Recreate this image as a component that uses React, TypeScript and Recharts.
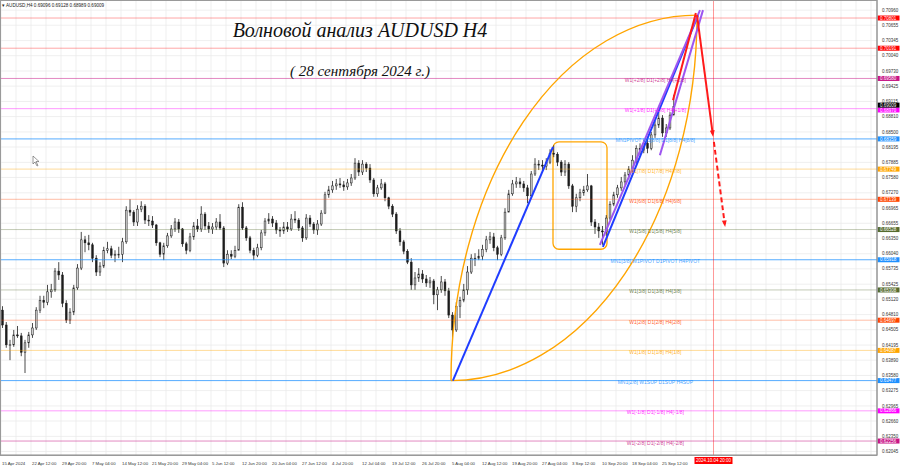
import React from "react";
import {
  ComposedChart,
  Bar,
  XAxis,
  YAxis,
  ReferenceLine,
  ReferenceArea,
  ReferenceDot,
  CartesianGrid,
} from "recharts";

const W = 900;
const H = 468;
const X_MAX = 233.6;
const Y_MIN = 0.61974;
const Y_MAX = 0.71165;

const OPEN0 = 0.649;
const CLOSES = [
  0.646, 0.642, 0.642, 0.644, 0.6438, 0.6405, 0.6424, 0.644, 0.6454, 0.649,
  0.651, 0.6506, 0.6527, 0.6531, 0.6569, 0.6561, 0.6504, 0.647, 0.6486, 0.6535,
  0.6575, 0.6632, 0.6626, 0.6622, 0.6595, 0.6567, 0.6579, 0.6611, 0.6614, 0.6601,
  0.6603, 0.6603, 0.6628, 0.6692, 0.6688, 0.6668, 0.6694, 0.67, 0.6672, 0.667,
  0.6662, 0.6626, 0.6603, 0.662, 0.664, 0.6654, 0.6668, 0.6654, 0.6624, 0.6611,
  0.6638, 0.666, 0.6654, 0.6684, 0.666, 0.6654, 0.6658, 0.6668, 0.6656, 0.6585,
  0.6603, 0.6599, 0.6611, 0.6698, 0.6656, 0.6636, 0.6611, 0.6601, 0.6616, 0.6646,
  0.667, 0.6674, 0.6666, 0.6652, 0.665, 0.6658, 0.6654, 0.6674, 0.6672, 0.6656,
  0.6636, 0.6676, 0.6664, 0.6652, 0.6664, 0.6686, 0.6723, 0.6733, 0.6741, 0.6745,
  0.6743, 0.6739, 0.6747, 0.6757, 0.6787, 0.6769, 0.6785, 0.6777, 0.6753, 0.6725,
  0.6737, 0.6745, 0.6717, 0.67, 0.6684, 0.665, 0.6628, 0.6609, 0.6587, 0.6541,
  0.6555, 0.6563, 0.6553, 0.6545, 0.6549, 0.6521, 0.6531, 0.6547, 0.6529, 0.648,
  0.645, 0.6498, 0.651, 0.6531, 0.6567, 0.6595, 0.6595, 0.6599, 0.6613, 0.6632,
  0.6638, 0.6616, 0.6603, 0.6636, 0.6688, 0.6725, 0.6745, 0.6749, 0.6745, 0.6737,
  0.6721, 0.6765, 0.6785, 0.6783, 0.6781, 0.6789, 0.6807, 0.6805, 0.6789, 0.6769,
  0.6785, 0.6741, 0.67, 0.6717, 0.6727, 0.6733, 0.6741, 0.6668, 0.6658, 0.665,
  0.6648, 0.6676, 0.6704, 0.6723, 0.6737, 0.6749, 0.6763, 0.6775, 0.6793, 0.6817,
  0.6813, 0.6827, 0.6817, 0.6844, 0.6864, 0.6878, 0.6848, 0.6858, 0.6884, 0.6901,
];
const HIGHS = [
  0.6498, 0.6466, 0.643, 0.645, 0.6458, 0.6444, 0.643, 0.6446, 0.6464, 0.6496,
  0.6519, 0.6519, 0.6541, 0.6543, 0.6575, 0.6587, 0.6567, 0.651, 0.6494, 0.6541,
  0.6583, 0.6648, 0.664, 0.6642, 0.6626, 0.6601, 0.6587, 0.6618, 0.6628, 0.662,
  0.6611, 0.6618, 0.6636, 0.67, 0.6714, 0.6692, 0.6702, 0.671, 0.6704, 0.6682,
  0.668, 0.6664, 0.6628, 0.6626, 0.6646, 0.6662, 0.6676, 0.6674, 0.6656, 0.6628,
  0.6646, 0.6668, 0.6674, 0.67, 0.6688, 0.6668, 0.6666, 0.6676, 0.6684, 0.666,
  0.6611, 0.6611, 0.662, 0.6704, 0.6708, 0.666, 0.664, 0.6616, 0.6624, 0.6652,
  0.6676, 0.6686, 0.668, 0.6672, 0.6658, 0.6668, 0.6668, 0.6684, 0.669, 0.6676,
  0.666, 0.6684, 0.6682, 0.6668, 0.6672, 0.6692, 0.6729, 0.6741, 0.6751, 0.6755,
  0.6757, 0.6751, 0.6755, 0.6765, 0.6797, 0.6793, 0.6793, 0.6789, 0.6785, 0.6757,
  0.6743, 0.6755, 0.6749, 0.6719, 0.6704, 0.6688, 0.6656, 0.6632, 0.6613, 0.6595,
  0.6567, 0.6575, 0.6571, 0.6561, 0.6557, 0.6553, 0.6537, 0.6559, 0.6553, 0.6535,
  0.6486, 0.6506, 0.6517, 0.6543, 0.6579, 0.6603, 0.6605, 0.6613, 0.6622, 0.664,
  0.6648, 0.6646, 0.662, 0.6642, 0.6696, 0.6733, 0.6753, 0.6759, 0.6757, 0.6751,
  0.6743, 0.6771, 0.6797, 0.6793, 0.6793, 0.6797, 0.6815, 0.6823, 0.6809, 0.6793,
  0.6793, 0.6789, 0.6745, 0.6725, 0.6735, 0.6741, 0.6765, 0.6743, 0.6674, 0.6666,
  0.666, 0.6682, 0.671, 0.6729, 0.6743, 0.6759, 0.6769, 0.6781, 0.6803, 0.6823,
  0.6827, 0.6834, 0.6834, 0.685, 0.6872, 0.689, 0.6884, 0.6866, 0.689, 0.6925,
];
const LOWS = [
  0.6454, 0.6414, 0.6389, 0.6416, 0.6434, 0.6397, 0.6363, 0.6414, 0.6434, 0.645,
  0.6484, 0.6494, 0.65, 0.6515, 0.6527, 0.6551, 0.6496, 0.6464, 0.6462, 0.648,
  0.6531, 0.6571, 0.6607, 0.6611, 0.6587, 0.6559, 0.6559, 0.6575, 0.6605, 0.6595,
  0.6587, 0.6595, 0.6587, 0.6624, 0.668, 0.666, 0.666, 0.6688, 0.6664, 0.666,
  0.6656, 0.662, 0.6597, 0.6591, 0.6616, 0.6636, 0.6648, 0.6646, 0.6618, 0.6603,
  0.6607, 0.6632, 0.6648, 0.6648, 0.6652, 0.6646, 0.6644, 0.6652, 0.6652, 0.6577,
  0.6581, 0.6593, 0.6595, 0.6611, 0.6652, 0.663, 0.6605, 0.6591, 0.6597, 0.6611,
  0.664, 0.6664, 0.6658, 0.6644, 0.6638, 0.6644, 0.6648, 0.665, 0.6666, 0.665,
  0.6628, 0.6632, 0.6658, 0.6644, 0.6642, 0.666, 0.6684, 0.6717, 0.6727, 0.6733,
  0.6737, 0.6731, 0.6733, 0.6741, 0.6753, 0.6761, 0.6763, 0.6769, 0.6747, 0.6719,
  0.6719, 0.6733, 0.671, 0.6694, 0.6678, 0.6644, 0.662, 0.6603, 0.6583, 0.6531,
  0.6531, 0.6547, 0.6545, 0.6537, 0.6535, 0.6502, 0.649, 0.6525, 0.6519, 0.6474,
  0.643, 0.6446, 0.6474, 0.6506, 0.6521, 0.6563, 0.6579, 0.6591, 0.6591, 0.6607,
  0.6624, 0.6609, 0.6591, 0.6599, 0.6632, 0.6688, 0.6721, 0.6737, 0.6737, 0.6729,
  0.6706, 0.6717, 0.6761, 0.6773, 0.6773, 0.6773, 0.6785, 0.6799, 0.6781, 0.6761,
  0.6761, 0.6735, 0.6688, 0.6688, 0.671, 0.6721, 0.6729, 0.666, 0.6644, 0.6636,
  0.6622, 0.664, 0.6672, 0.67, 0.6717, 0.6731, 0.6743, 0.6755, 0.6769, 0.6787,
  0.6803, 0.6807, 0.6807, 0.6813, 0.6838, 0.6858, 0.684, 0.684, 0.6854, 0.6894,
];

const TIME_LABELS = [
  "15 Apr 2024", "22 Apr 12:00", "29 Apr 20:00", "7 May 04:00", "14 May 12:00",
  "21 May 20:00", "29 May 04:00", "5 Jun 12:00", "12 Jun 20:00", "20 Jun 04:00",
  "27 Jun 12:00", "4 Jul 20:00", "12 Jul 04:00", "19 Jul 12:00", "26 Jul 20:00",
  "5 Aug 04:00", "12 Aug 12:00", "19 Aug 20:00", "27 Aug 04:00", "3 Sep 12:00",
  "10 Sep 20:00", "18 Sep 04:00", "25 Sep 12:00",
];
const TIME_TICKS = TIME_LABELS.map((_, m) => m * 8);
const GRID_X = Array.from({ length: 59 }, (_, m) => m * 4);

const PRICE_TICKS = [
  0.7096, 0.70655, 0.70345, 0.7004, 0.6973, 0.69425, 0.69115, 0.6881, 0.685,
  0.68195, 0.67885, 0.6758, 0.6727, 0.66965, 0.66655, 0.6635, 0.6604, 0.65735,
  0.65425, 0.6512, 0.6481, 0.64505, 0.64195, 0.6389, 0.6358, 0.63275, 0.62965,
  0.6266, 0.6235, 0.62045,
];

const LEVEL_PRICES = [
  0.70801, 0.70191, 0.6958, 0.6897, 0.68359, 0.67749, 0.67139, 0.66528,
  0.65918, 0.65308, 0.64697, 0.64087, 0.63477, 0.62866, 0.62256,
];
const LEVEL_TEXTS = [
  "", "",
  "W1[+2/8] D1[+2/8] H4[+2/8]",
  "W1[+1/8] D1[+1/8] H4[+1/8]",
  "MN1PIVOT W1[8/8] D1[8/8] H4[8/8]",
  "W1[7/8] D1[7/8] H4[7/8]",
  "W1[6/8] D1[6/8] H4[6/8]",
  "W1[5/8] D1[5/8] H4[5/8]",
  "MN1[3/8] W1PIVOT D1PIVOT H4PIVOT",
  "W1[3/8] D1[3/8] H4[3/8]",
  "W1[2/8] D1[2/8] H4[2/8]",
  "W1[1/8] D1[1/8] H4[1/8]",
  "MN1[2/8] W1SUP D1SUP H4SUP",
  "W1[-1/8] D1[-1/8] H4[-1/8]",
  "W1[-2/8] D1[-2/8] H4[-2/8]",
];
const LEVEL_COLORS = [
  "#ff0000", "#ff0000", "#c71585", "#ff00ff", "#1e90ff", "#ffa500", "#ff4500",
  "#556b2f", "#1e90ff", "#556b2f", "#ff4500", "#ffa500", "#1e90ff", "#ff00ff",
  "#c71585",
];
const LEVEL_OPACITY = [0.35, 0.35, 0.5, 0.4, 0.75, 0.4, 0.35, 0.35, 0.75, 0.35, 0.35, 0.4, 0.75, 0.4, 0.5];
const LEVEL_LABEL_I = 174.5;

const CURRENT_PRICE = 0.69009;
const FUTURE_I = 190;
const FUTURE_LABEL = "2024.10.04 20:00";

// wave drawing anchors (candle-time, price)
const ARC_START = { x: 120, y: 0.63477 };
const ARC_END = { x: 185.6, y: 0.7086 };
const BLUE_LINES = [
  [{ x: 120.5, y: 0.63477 }, { x: 147.2, y: 0.682 }],
  [{ x: 160.5, y: 0.6618 }, { x: 185.9, y: 0.7086 }],
];
const PURPLE_LINES = [
  [{ x: 159.7, y: 0.6622 }, { x: 186.4, y: 0.7096 }],
  [{ x: 175.7, y: 0.6803 }, { x: 187.2, y: 0.7096 }],
];
const RED_UP = [{ x: 179.2, y: 0.6914 }, { x: 185.3, y: 0.709 }];
const RED_DOWN = [{ x: 185.6, y: 0.7086 }, { x: 189.9, y: 0.684 }];
const RED_DASH = [{ x: 190.1, y: 0.683 }, { x: 193.1, y: 0.6658 }];
const BOX = { x1: 147.2, x2: 161.6, y1: 0.6613, y2: 0.683 };

const candles = CLOSES.map((c, k) => {
  const open = k === 0 ? OPEN0 : CLOSES[k - 1];
  return {
    i: k + 0.5,
    open,
    close: c,
    high: Math.max(HIGHS[k], open, c),
    low: Math.min(LOWS[k], open, c),
  };
});

const FONT = "'Liberation Sans', Arial, sans-serif";
const TITLE_FONT = "'Liberation Serif', 'DejaVu Serif', serif";

const CandleShape = (props: any) => {
  const { x, y, width, height, payload } = props;
  if (height == null || !payload) return null;
  const h = Math.abs(height);
  const top = height >= 0 ? y : y + height;
  const range = payload.high - payload.low;
  const k = range > 0 ? h / range : 0;
  const yO = top + (payload.high - payload.open) * k;
  const yC = top + (payload.high - payload.close) * k;
  const cx = x + width / 2;
  const bull = payload.close >= payload.open;
  const bt = Math.min(yO, yC);
  const bh = Math.max(Math.abs(yO - yC), 0.8);
  return (
    <g>
      <line x1={cx} x2={cx} y1={top} y2={top + h} stroke="#1c1c1c" strokeWidth={0.8} />
      <rect
        x={cx - 0.9}
        y={bt}
        width={1.8}
        height={bh}
        fill={bull ? "#cfcfcf" : "#1c1c1c"}
        stroke="#1c1c1c"
        strokeWidth={0.5}
      />
    </g>
  );
};

const XTick = (props: any) => {
  const { x, y, payload } = props;
  const idx = TIME_TICKS.indexOf(payload.value);
  return (
    <text x={x + 1} y={y + 8} fontSize={4.3} fontFamily={FONT} fill="#333" textAnchor="start">
      {idx >= 0 ? TIME_LABELS[idx] : ""}
    </text>
  );
};

const YTick = (props: any) => {
  const { x, y, payload } = props;
  return (
    <text x={x + 3} y={y + 1.6} fontSize={4.5} fontFamily={FONT} fill="#333" textAnchor="start">
      {payload.value.toFixed(5)}
    </text>
  );
};

const priceBox = (text: string, color: string, dy: number) => (p: any) => {
  const vb = p.viewBox || {};
  const bx = (vb.x ?? 0) + (vb.width ?? 0);
  const by = (vb.y ?? 0) + dy;
  return (
    <g>
      <rect x={bx + 0.5} y={by - 2.5} width={22} height={5} fill={color} />
      <text x={bx + 3} y={by + 1.6} fontSize={4.5} fontFamily={FONT} fill="#fff">
        {text}
      </text>
    </g>
  );
};

const arcShape = (sweep: number) => (p: any) => {
  const { x1, y1, x2, y2 } = p;
  const rx = Math.abs(x2 - x1);
  const ry = Math.abs(y2 - y1);
  return (
    <path
      d={`M${x1},${y1} A${rx},${ry} 0 0 ${sweep} ${x2},${y2}`}
      fill="none"
      stroke="#ffa500"
      strokeWidth={1.4}
    />
  );
};

const arrowShape = (color: string, dashed: boolean) => (p: any) => {
  const { x1, y1, x2, y2 } = p;
  const ang = Math.atan2(y2 - y1, x2 - x1);
  const L = 7;
  const a1 = ang + Math.PI - 0.35;
  const a2 = ang + Math.PI + 0.35;
  return (
    <g>
      <line
        x1={x1}
        y1={y1}
        x2={x2 - Math.cos(ang) * 3}
        y2={y2 - Math.sin(ang) * 3}
        stroke={color}
        strokeWidth={2}
        strokeDasharray={dashed ? "5 3" : undefined}
      />
      <polygon
        points={`${x2},${y2} ${x2 + L * Math.cos(a1)},${y2 + L * Math.sin(a1)} ${x2 + L * Math.cos(a2)},${y2 + L * Math.sin(a2)}`}
        fill={color}
      />
    </g>
  );
};

export default function App() {
  return (
    <div style={{ position: "relative", width: W, height: H, background: "#fff", overflow: "hidden" }}>
      <style>{"body{margin:0;background:#fff}"}</style>
      <ComposedChart
        width={W}
        height={H}
        data={candles}
        margin={{ top: 0, right: 0, bottom: 0, left: 1 }}
      >
        <CartesianGrid
          stroke="#ebebeb"
          strokeWidth={0.8}
          horizontalValues={PRICE_TICKS}
          verticalValues={GRID_X}
        />
        <XAxis
          type="number"
          dataKey="i"
          domain={[0, X_MAX]}
          allowDataOverflow
          ticks={TIME_TICKS}
          tick={<XTick />}
          tickLine={false}
          tickSize={0}
          height={13}
          axisLine={{ stroke: "#8a8a8a" }}
          interval={0}
        />
        <YAxis
          orientation="right"
          domain={[Y_MIN, Y_MAX]}
          allowDataOverflow
          ticks={PRICE_TICKS}
          tick={<YTick />}
          tickLine={false}
          tickSize={0}
          width={23}
          axisLine={{ stroke: "#8a8a8a" }}
          interval={0}
        />
        {LEVEL_PRICES.map((lv, n) => (
          <ReferenceLine
            key={"lv" + n}
            y={lv}
            stroke={LEVEL_COLORS[n]}
            strokeOpacity={LEVEL_OPACITY[n]}
            strokeWidth={1}
            label={priceBox(lv.toFixed(5), LEVEL_COLORS[n], n === 3 ? 1.3 : 0)}
          />
        ))}
        <ReferenceLine
          y={CURRENT_PRICE}
          stroke="#000"
          strokeOpacity={0}
          label={priceBox(CURRENT_PRICE.toFixed(5), "#000", -1.6)}
        />
        <ReferenceLine
          x={FUTURE_I}
          stroke="#ff0000"
          strokeOpacity={0.4}
          label={(p: any) => {
            const vb = p.viewBox || {};
            const x = vb.x ?? 0;
            const yb = (vb.y ?? 0) + (vb.height ?? 0);
            return (
              <g>
                <rect x={x - 19} y={yb + 2} width={38} height={7} fill="#ff0000" />
                <text x={x} y={yb + 7.3} fontSize={4.5} fontFamily={FONT} fill="#fff" textAnchor="middle">
                  {FUTURE_LABEL}
                </text>
              </g>
            );
          }}
        />
        <Bar
          dataKey={(d: any) => [d.low, d.high]}
          shape={<CandleShape />}
          barSize={3}
          isAnimationActive={false}
        />
        {LEVEL_PRICES.map((lv, n) =>
          LEVEL_TEXTS[n] ? (
            <ReferenceDot
              key={"lt" + n}
              x={LEVEL_LABEL_I}
              y={lv}
              r={0}
              shape={(p: any) => (
                <text
                  x={p.cx}
                  y={p.cy + 3.5}
                  fontSize={5}
                  fontFamily={FONT}
                  fill={LEVEL_COLORS[n]}
                  fillOpacity={0.85}
                  textAnchor="middle"
                >
                  {LEVEL_TEXTS[n]}
                </text>
              )}
            />
          ) : null
        )}
        <ReferenceArea
          x1={BOX.x1}
          x2={BOX.x2}
          y1={BOX.y1}
          y2={BOX.y2}
          shape={(p: any) => (
            <rect
              x={p.x}
              y={p.y}
              width={p.width}
              height={p.height}
              rx={6}
              ry={6}
              fill="none"
              stroke="#ffa500"
              strokeWidth={1.3}
            />
          )}
        />
        <ReferenceLine segment={[ARC_START, ARC_END]} shape={arcShape(1)} />
        <ReferenceLine segment={[ARC_START, ARC_END]} shape={arcShape(0)} />
        {BLUE_LINES.map((s, n) => (
          <ReferenceLine key={"b" + n} segment={s} stroke="#1f3cff" strokeWidth={2} />
        ))}
        {PURPLE_LINES.map((s, n) => (
          <ReferenceLine key={"p" + n} segment={s} stroke="#9d55f0" strokeWidth={2} />
        ))}
        <ReferenceLine segment={RED_UP} stroke="#ff1a1a" strokeWidth={2} />
        <ReferenceLine segment={RED_DOWN} shape={arrowShape("#ff1a1a", false)} />
        <ReferenceLine segment={RED_DASH} shape={arrowShape("#ff1a1a", true)} />
      </ComposedChart>

      <svg
        width={W}
        height={H}
        style={{ position: "absolute", left: 0, top: 0, pointerEvents: "none" }}
      >
        <rect x={0.5} y={0.5} width={876.5} height={455} fill="none" stroke="#9a9a9a" strokeWidth={1} />
        <text x={2} y={7} fontSize={4.6} fontFamily={FONT} fill="#222">
          ▾ AUDUSD,H4  0.69096 0.69128 0.68989 0.69009
        </text>
        <text
          x={360}
          y={37}
          fontSize={20}
          fontFamily={TITLE_FONT}
          fontStyle="italic"
          fill="#111"
          textAnchor="middle"
        >
          Волновой анализ AUDUSD H4
        </text>
        <text
          x={360}
          y={76}
          fontSize={15}
          fontFamily={TITLE_FONT}
          fontStyle="italic"
          fill="#111"
          textAnchor="middle"
        >
          ( 28 сентября 2024 г.)
        </text>
        <path d="M33,156 L33,164 L35,162 L37,166 L38,165.5 L36,161.5 L39,161.5 Z" fill="#fff" stroke="#555" strokeWidth={0.6} />
      </svg>
    </div>
  );
}
